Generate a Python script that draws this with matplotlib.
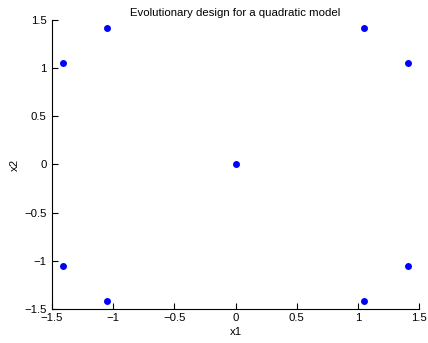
import matplotlib.pyplot as plt
import numpy as np

plt.rcParams['font.family'] = ['Liberation Sans', 'DejaVu Sans']

r = 1.414
s = 1.05
x1 = [-r, -s, s, r, 0, -r, -s, s, r]
x2 = [s, r, r, s, 0, -s, -r, -r, -s]
ticks = [-1.5, -1, -0.5, 0, 0.5, 1, 1.5]
tick_labels = ['\u22121.5', '\u22121', '\u22120.5', '0', '0.5', '1', '1.5']

fig = plt.figure(figsize=(4.28, 3.43), dpi=100)
ax = fig.add_axes([0.1215, 0.099, 0.8575, 0.843])
ax.plot(x1, x2, 'o', color='#0000ff', markersize=5, markeredgewidth=0)
ax.set_xlim(-1.5, 1.5)
ax.set_ylim(-1.5, 1.5)
ax.set_xticks(ticks)
ax.set_xticklabels(tick_labels)
ax.set_yticks(ticks)
ax.set_yticklabels(tick_labels)
for side in ['top', 'right']:
    ax.spines[side].set_visible(False)
ax.spines['left'].set_linewidth(0.8)
ax.spines['bottom'].set_linewidth(0.8)
ax.tick_params(direction='in', length=4, width=0.8, labelsize=8.2)
ax.tick_params(axis='x', pad=3)
ax.tick_params(axis='y', pad=4)
ax.set_xlabel('x1', fontsize=8.2, labelpad=3)
ax.set_ylabel('x2', fontsize=8.2, labelpad=3)
ax.set_title('Evolutionary design for a quadratic model', fontsize=8.2, pad=3)

fig.savefig('out.png', dpi=100)
